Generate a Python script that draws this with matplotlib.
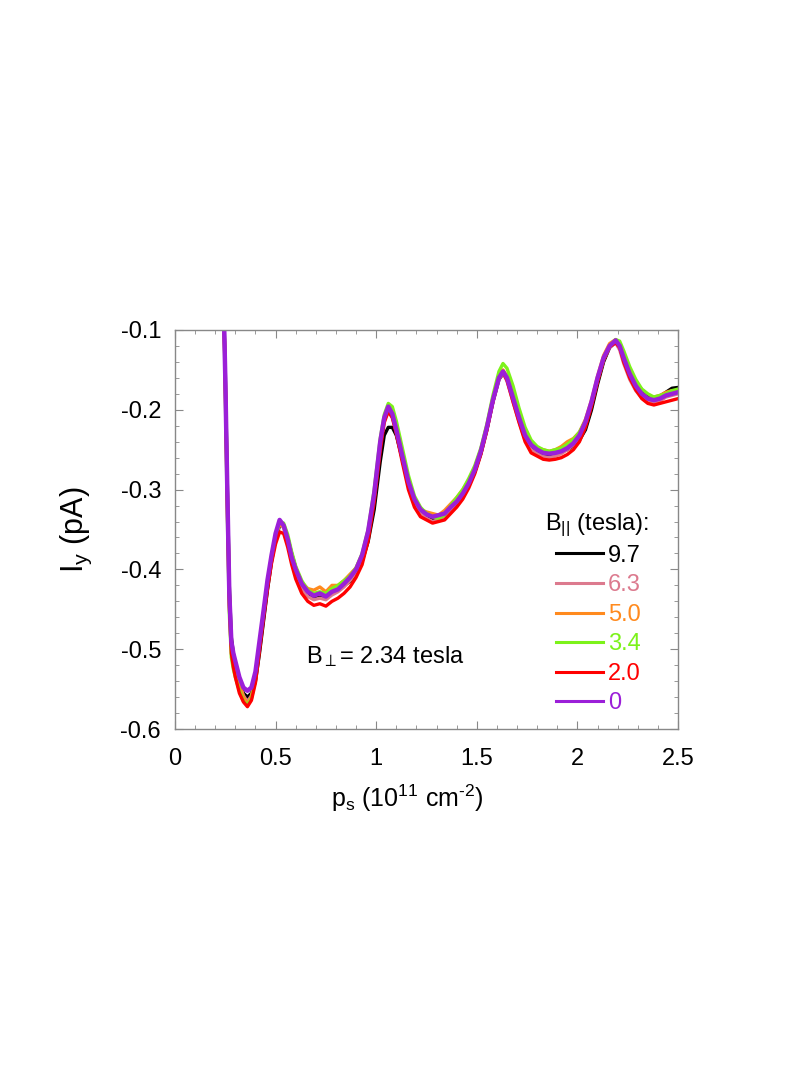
import matplotlib.pyplot as plt
from matplotlib.ticker import MultipleLocator

plt.rcParams['font.family'] = ['Liberation Sans', 'DejaVu Sans']
plt.rcParams['mathtext.fontset'] = 'custom'
plt.rcParams['mathtext.rm'] = 'Liberation Sans'
plt.rcParams['mathtext.it'] = 'Liberation Sans'

# hole density (10^11 cm^-2)
ps = [0.245, 0.25, 0.26, 0.27, 0.28, 0.29, 0.30, 0.32, 0.34, 0.36,
      0.38, 0.40, 0.42, 0.44, 0.46, 0.48, 0.50, 0.52, 0.54, 0.56,
      0.58, 0.60, 0.63, 0.66, 0.69, 0.72, 0.75, 0.78, 0.81, 0.84,
      0.87, 0.90, 0.93, 0.96, 0.99, 1.02, 1.04, 1.06, 1.08, 1.10,
      1.13, 1.16, 1.19, 1.22, 1.25, 1.28, 1.31, 1.34, 1.37, 1.40,
      1.43, 1.46, 1.49, 1.52, 1.55, 1.58, 1.61, 1.63, 1.65, 1.68,
      1.71, 1.74, 1.77, 1.80, 1.83, 1.86, 1.89, 1.92, 1.95, 1.98,
      2.01, 2.04, 2.07, 2.10, 2.13, 2.16, 2.19, 2.21, 2.23, 2.26,
      2.29, 2.32, 2.35, 2.38, 2.41, 2.44, 2.47, 2.50]

# I_y (pA) for each in-plane field
iy_97 = [-0.100, -0.150, -0.290, -0.420, -0.485, -0.505, -0.520, -0.540, -0.555, -0.560,
         -0.555, -0.540, -0.505, -0.465, -0.425, -0.390, -0.362, -0.345, -0.345, -0.360,
         -0.380, -0.398, -0.418, -0.430, -0.435, -0.435, -0.432, -0.430, -0.425, -0.420,
         -0.415, -0.405, -0.390, -0.365, -0.325, -0.265, -0.232, -0.222, -0.222, -0.232,
         -0.262, -0.292, -0.315, -0.327, -0.333, -0.336, -0.335, -0.330, -0.320, -0.315,
         -0.307, -0.295, -0.278, -0.255, -0.225, -0.190, -0.162, -0.155, -0.160, -0.182,
         -0.208, -0.232, -0.245, -0.252, -0.255, -0.256, -0.255, -0.252, -0.250, -0.245,
         -0.238, -0.225, -0.200, -0.168, -0.140, -0.122, -0.115, -0.118, -0.130, -0.150,
         -0.165, -0.175, -0.182, -0.185, -0.183, -0.178, -0.173, -0.172]
iy_63 = [-0.105, -0.160, -0.300, -0.430, -0.495, -0.510, -0.522, -0.542, -0.558, -0.566,
         -0.558, -0.535, -0.495, -0.455, -0.418, -0.386, -0.360, -0.342, -0.348, -0.366,
         -0.388, -0.404, -0.424, -0.434, -0.438, -0.436, -0.438, -0.432, -0.428, -0.422,
         -0.414, -0.404, -0.386, -0.356, -0.310, -0.245, -0.212, -0.200, -0.208, -0.228,
         -0.262, -0.295, -0.318, -0.330, -0.336, -0.340, -0.338, -0.336, -0.326, -0.318,
         -0.308, -0.294, -0.277, -0.254, -0.224, -0.190, -0.162, -0.154, -0.164, -0.190,
         -0.215, -0.238, -0.250, -0.255, -0.259, -0.260, -0.258, -0.255, -0.250, -0.244,
         -0.234, -0.217, -0.192, -0.162, -0.137, -0.122, -0.116, -0.125, -0.142, -0.162,
         -0.176, -0.185, -0.190, -0.192, -0.189, -0.184, -0.182, -0.180]
iy_50 = [-0.105, -0.160, -0.300, -0.430, -0.495, -0.512, -0.524, -0.544, -0.560, -0.568,
         -0.560, -0.536, -0.494, -0.454, -0.416, -0.384, -0.358, -0.344, -0.346, -0.362,
         -0.382, -0.398, -0.416, -0.424, -0.426, -0.422, -0.428, -0.420, -0.420, -0.414,
         -0.406, -0.398, -0.382, -0.352, -0.306, -0.242, -0.212, -0.202, -0.208, -0.226,
         -0.258, -0.290, -0.312, -0.325, -0.328, -0.330, -0.332, -0.326, -0.318, -0.310,
         -0.300, -0.288, -0.272, -0.250, -0.220, -0.186, -0.158, -0.150, -0.158, -0.184,
         -0.210, -0.232, -0.244, -0.248, -0.250, -0.252, -0.250, -0.246, -0.240, -0.236,
         -0.228, -0.212, -0.188, -0.158, -0.132, -0.117, -0.112, -0.118, -0.134, -0.154,
         -0.168, -0.180, -0.186, -0.184, -0.182, -0.178, -0.176, -0.176]
iy_34 = [-0.110, -0.180, -0.330, -0.455, -0.510, -0.525, -0.535, -0.552, -0.565, -0.570,
         -0.562, -0.538, -0.496, -0.454, -0.416, -0.384, -0.358, -0.340, -0.342, -0.356,
         -0.378, -0.396, -0.414, -0.426, -0.430, -0.428, -0.430, -0.424, -0.420, -0.414,
         -0.408, -0.398, -0.380, -0.350, -0.300, -0.236, -0.206, -0.192, -0.196, -0.214,
         -0.248, -0.282, -0.308, -0.322, -0.330, -0.334, -0.336, -0.332, -0.320, -0.310,
         -0.300, -0.286, -0.270, -0.248, -0.218, -0.182, -0.152, -0.142, -0.148, -0.170,
         -0.198, -0.222, -0.238, -0.246, -0.250, -0.252, -0.250, -0.248, -0.243, -0.237,
         -0.228, -0.214, -0.192, -0.163, -0.137, -0.120, -0.112, -0.114, -0.126, -0.146,
         -0.162, -0.174, -0.180, -0.184, -0.182, -0.180, -0.176, -0.174]
iy_20 = [-0.105, -0.170, -0.320, -0.445, -0.505, -0.522, -0.535, -0.555, -0.566, -0.572,
         -0.564, -0.542, -0.502, -0.462, -0.424, -0.392, -0.368, -0.353, -0.355, -0.372,
         -0.394, -0.412, -0.430, -0.440, -0.445, -0.443, -0.446, -0.440, -0.436, -0.430,
         -0.422, -0.410, -0.394, -0.364, -0.316, -0.252, -0.216, -0.202, -0.210, -0.230,
         -0.266, -0.300, -0.322, -0.334, -0.338, -0.342, -0.340, -0.338, -0.330, -0.322,
         -0.312, -0.298, -0.280, -0.256, -0.226, -0.190, -0.160, -0.153, -0.163, -0.190,
         -0.216, -0.240, -0.254, -0.258, -0.262, -0.263, -0.262, -0.260, -0.256, -0.250,
         -0.240, -0.222, -0.196, -0.165, -0.138, -0.121, -0.116, -0.122, -0.140, -0.160,
         -0.175, -0.186, -0.192, -0.194, -0.192, -0.190, -0.188, -0.186]
iy_0 = [-0.102, -0.160, -0.300, -0.430, -0.490, -0.505, -0.515, -0.535, -0.548, -0.552,
        -0.548, -0.528, -0.490, -0.452, -0.413, -0.382, -0.355, -0.338, -0.345, -0.362,
        -0.385, -0.400, -0.418, -0.428, -0.433, -0.430, -0.434, -0.428, -0.425, -0.418,
        -0.410, -0.400, -0.382, -0.352, -0.305, -0.240, -0.210, -0.196, -0.205, -0.225,
        -0.258, -0.290, -0.312, -0.325, -0.331, -0.334, -0.332, -0.330, -0.322, -0.315,
        -0.305, -0.292, -0.275, -0.252, -0.222, -0.188, -0.160, -0.152, -0.160, -0.185,
        -0.210, -0.232, -0.244, -0.250, -0.254, -0.255, -0.254, -0.252, -0.248, -0.242,
        -0.232, -0.215, -0.190, -0.160, -0.135, -0.120, -0.113, -0.120, -0.135, -0.155,
        -0.170, -0.180, -0.186, -0.188, -0.186, -0.182, -0.180, -0.178]

labels = ['9.7', '6.3', '5.0', '3.4', '2.0', '0']
colors = ['black', '#dc7a8e', '#ff8a1e', '#7cf21a', '#ff0000', '#9b1fd8']
series = [iy_97, iy_63, iy_50, iy_34, iy_20, iy_0]

fig = plt.figure(figsize=(7.99, 10.78), dpi=100)
ax = fig.add_axes([0.219, 0.3237, 0.6296, 0.3702])

for y, lab, c in zip(series, labels, colors):
    lw = 3.2 if lab == '0' else 2.4
    ax.plot(ps, y, color=c, lw=lw, label=lab)

ax.set_xlim(0, 2.5)
ax.set_ylim(-0.6, -0.1)
ax.xaxis.set_minor_locator(MultipleLocator(0.1))
ax.yaxis.set_minor_locator(MultipleLocator(0.02))
ax.set_xticks([0, 0.5, 1, 1.5, 2, 2.5])
ax.set_xticklabels(['0', '0.5', '1', '1.5', '2', '2.5'])
ax.set_yticks([-0.6, -0.5, -0.4, -0.3, -0.2, -0.1])
ax.set_yticklabels(['-0.6', '-0.5', '-0.4', '-0.3', '-0.2', '-0.1'])

for s in ax.spines.values():
    s.set_color('#888888')
    s.set_linewidth(1.0)
ax.tick_params(which='both', direction='in', top=True, right=True,
               color='#888888', labelsize=17)
ax.tick_params(which='major', length=6)
ax.tick_params(which='minor', length=3)
ax.tick_params(axis='x', which='major', pad=14)
ax.tick_params(axis='y', which='major', pad=10)

ax.set_xlabel(r'p$_{\mathregular{s}}$ (10$^{\mathregular{11}}$ cm$^{\text{-2}}$)', fontsize=18)
ax.xaxis.set_label_coords(0.461, -0.135)
ax.set_ylabel(r'I$_{\mathregular{y}}$ (pA)', fontsize=22)
ax.yaxis.set_label_coords(-0.16, 0.50)

ax.text(0.65, -0.517, r'B$_{\perp}$= 2.34 tesla', fontsize=17, va='baseline')

ax.text(0.7356, 0.499, r'B$_{||}$ (tesla):', fontsize=17, transform=ax.transAxes)
leg = ax.legend(loc='upper left', bbox_to_anchor=(0.757, 0.462), frameon=False,
                fontsize=17, labelcolor='linecolor', handlelength=2.0,
                handletextpad=0.2, labelspacing=0.32, borderpad=0,
                borderaxespad=0)
for h in leg.legend_handles:
    h.set_linewidth(2.2)

fig.savefig('out.png', dpi=100)
